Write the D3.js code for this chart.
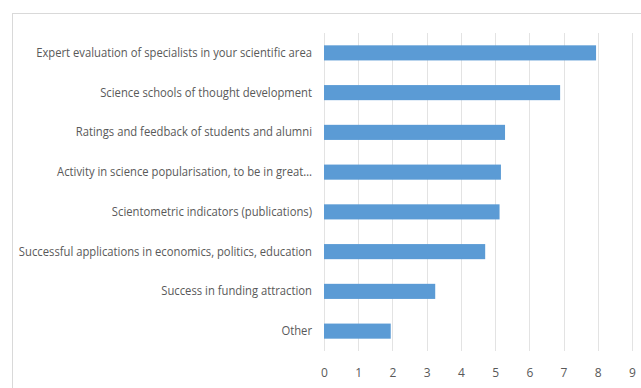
<!DOCTYPE html>
<html>
<head>
<meta charset="utf-8">
<script src="https://cdn.jsdelivr.net/npm/d3@7"></script>
<style>
  body { margin: 0; background: #fff; }
  svg { display: block; }
</style>
</head>
<body>
<div id="chart"></div>
<script>
// categories, top to bottom
const categories = [
  "Expert evaluation of specialists in your scientific area",
  "Science schools of thought development",
  "Ratings and feedback of students and alumni",
  "Activity in science popularisation, to be in great\u2026",
  "Scientometric indicators (publications)",
  "Successful applications in economics, politics, education",
  "Success in funding attraction",
  "Other"
];
const values = [7.95, 6.9, 5.29, 5.17, 5.13, 4.71, 3.25, 1.95];
const xTicks = [0, 1, 2, 3, 4, 5, 6, 7, 8, 9];

const width = 641;
const height = 388;
const margin = { top: 33, right: 9, bottom: 37, left: 324 };
const condense = 0.9; // the original uses a narrow font

const svg = d3.select("#chart").append("svg")
    .attr("width", width)
    .attr("height", height);

// chart frame
svg.append("rect")
    .attr("x", 12.5)
    .attr("y", 13.5)
    .attr("width", width + 10)
    .attr("height", height)
    .attr("fill", "none")
    .attr("stroke", "#d9d9d9");

const x = d3.scaleLinear()
    .domain([0, 9])
    .range([margin.left, width - margin.right]);

const y = d3.scaleBand()
    .domain(categories)
    .range([margin.top, height - margin.bottom])
    .paddingInner(0.62)
    .paddingOuter(0.31);

// vertical gridlines
svg.append("g")
    .selectAll("line")
    .data(xTicks)
    .join("line")
      .attr("x1", d => Math.round(x(d)) + 0.5)
      .attr("x2", d => Math.round(x(d)) + 0.5)
      .attr("y1", margin.top)
      .attr("y2", height - margin.bottom)
      .attr("stroke", "#e3e3e3")
      .attr("stroke-width", 1);

// bars
svg.append("g")
    .selectAll("rect")
    .data(values)
    .join("rect")
      .attr("x", x(0))
      .attr("y", (d, i) => y(categories[i]))
      .attr("width", d => x(d) - x(0))
      .attr("height", y.bandwidth())
      .attr("fill", "#5b9bd5");

// x axis labels
const xAxis = svg.append("g")
    .attr("transform", `translate(0,${height - margin.bottom})`)
    .call(d3.axisBottom(x).tickValues(xTicks).tickSize(0).tickPadding(17));
xAxis.select(".domain").remove();
xAxis.selectAll("text")
    .attr("fill", "#595959")
    .attr("font-family", "'Open Sans', sans-serif")
    .attr("font-size", "12px");

// category labels
const yAxis = svg.append("g")
    .attr("transform", `translate(${margin.left},0)`)
    .call(d3.axisLeft(y).tickSize(0).tickPadding(12));
yAxis.select(".domain").remove();
yAxis.selectAll("text")
    .attr("fill", "#595959")
    .attr("font-family", "'Open Sans', sans-serif")
    .attr("font-size", "12.5px")
    .each(function() {
      const w = this.getComputedTextLength();
      d3.select(this)
        .attr("textLength", w * condense)
        .attr("lengthAdjust", "spacingAndGlyphs");
    });
</script>
</body>
</html>
